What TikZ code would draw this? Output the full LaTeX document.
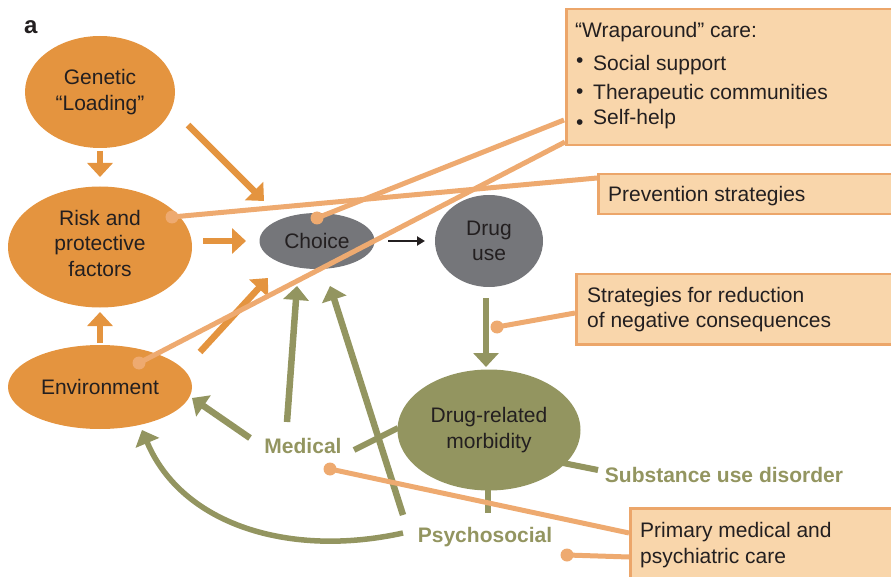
\documentclass[tikz,border=0pt]{standalone}
\usepackage{fontspec}
\setmainfont{Liberation Sans}
\usetikzlibrary{shapes.geometric,arrows.meta}

\definecolor{ink}{HTML}{231F20}
\definecolor{orangefill}{HTML}{E4943F}
\definecolor{lightline}{HTML}{EEAA70}
\definecolor{boxfill}{HTML}{F9D6AB}
\definecolor{boxline}{HTML}{ECA66A}
\definecolor{greyfill}{HTML}{75767A}
\definecolor{olive}{HTML}{939560}

\begin{document}
\begin{tikzpicture}[x=1pt,y=-1pt,
  every node/.style={text=ink},
  bubble/.style={ellipse, inner sep=0pt, align=center, font=\fontsize{21}{25.5}\selectfont},
  bubbletext/.style={inner sep=0pt, align=center, font=\fontsize{21}{25.5}\selectfont},
  orangebub/.style={bubble, fill=orangefill},
  greybub/.style={bubble, fill=greyfill},
  olivebub/.style={bubble, fill=olive},
  olivelabel/.style={anchor=base, inner sep=0pt, text=olive, font=\fontsize{21}{25}\selectfont\bfseries},
  infobox/.style={draw=boxline, line width=2.5pt, fill=boxfill, anchor=north west, inner sep=0pt},
  boxtext/.style={anchor=base west, inner sep=0pt, font=\fontsize{21}{25}\selectfont},
  orangearrow/.style={draw=orangefill, line width=6.5pt, -{Triangle[width=25pt,length=14pt]}},
  olivearrow/.style={draw=olive, line width=6.5pt, -{Triangle[width=25pt,length=14pt]}},
  oliveline/.style={draw=olive, line width=6pt},
  linkline/.style={draw=lightline, line width=5pt},
  linkdot/.style={fill=lightline},
  blackarrow/.style={draw=ink, line width=2pt, -{Triangle[width=9pt,length=8pt]}}
]
\useasboundingbox (0,0) rectangle (891,577);
\clip (0,0) rectangle (891,577);

% panel letter
\node[anchor=base west, inner sep=0pt, font=\fontsize{24}{28}\selectfont\bfseries] (panel) at (24,34) {a};

% main bubbles
\node[orangebub, minimum width=150, minimum height=112] (gen) at (100,92) {Genetic\\“Loading”};
\node[orangebub, minimum width=184, minimum height=121] (risk) at (100,247) {};
\node[bubbletext] (risktext) at (100,243) {Risk and\\protective\\factors};
\node[orangebub, minimum width=184, minimum height=84] (env) at (100,387) {Environment};
\node[greybub, minimum width=115, minimum height=56] (choice) at (317,241) {Choice};
\node[greybub, minimum width=108, minimum height=92] (druguse) at (489,241) {Drug\\use};
\node[olivebub, minimum width=183, minimum height=121] (morb) at (489,430) {Drug-related\\morbidity};

% olive labels
\node[olivelabel] (medical) at (303,453) {Medical};
\node[olivelabel] (psycho) at (485,542) {Psychosocial};
\node[olivelabel] (sud) at (724,482) {Substance use disorder};

% arrow end points
\coordinate (g2r-a) at (100,151);  \coordinate (g2r-b) at (100,177);
\coordinate (g2c-a) at (188,125);  \coordinate (g2c-b) at (264,201);
\coordinate (r2c-a) at (203,241);  \coordinate (r2c-b) at (246,241);
\coordinate (e2c-a) at (200,352);  \coordinate (e2c-b) at (268,278);
\coordinate (e2r-a) at (100,343);  \coordinate (e2r-b) at (100,312);
\coordinate (c2d-a) at (388,241);  \coordinate (c2d-b) at (425,241);
\coordinate (d2m-a) at (486,298);  \coordinate (d2m-b) at (486,367);
\coordinate (m2c-a) at (287,422);  \coordinate (m2c-b) at (297,286);
\coordinate (p2c-a) at (403,515);  \coordinate (p2c-b) at (330,286);
\coordinate (m2e-a) at (250,438);  \coordinate (m2e-b) at (192,398);
\coordinate (p2e-a) at (403,533);  \coordinate (p2e-b) at (142,430);
\coordinate (mm-a) at (354,450);   \coordinate (mm-b) at (398,428);
\coordinate (mp-a) at (488,488);   \coordinate (mp-b) at (488,513);
\coordinate (ms-a) at (563,463);   \coordinate (ms-b) at (598,470);

% orange influence arrows
\draw[orangearrow] (g2r-a) -- (g2r-b);
\draw[orangearrow] (g2c-a) -- (g2c-b);
\draw[orangearrow] (r2c-a) -- (r2c-b);
\draw[orangearrow] (e2c-a) -- (e2c-b);
\draw[orangearrow] (e2r-a) -- (e2r-b);

% choice to drug use
\draw[blackarrow] (c2d-a) -- (c2d-b);

% olive feedback arrows
\draw[olivearrow] (d2m-a) -- (d2m-b);
\draw[olivearrow] (m2c-a) -- (m2c-b);
\draw[olivearrow] (p2c-a) -- (p2c-b);
\draw[olivearrow] (m2e-a) -- (m2e-b);
\draw[olivearrow, line width=5.5pt] (p2e-a) .. controls (290,558) and (182,525) .. (p2e-b);
\draw[oliveline] (mm-a) -- (mm-b);
\draw[oliveline] (mp-a) -- (mp-b);
\draw[oliveline] (ms-a) -- (ms-b);

% intervention boxes
\node[infobox, minimum width=340, minimum height=136] (wrapbox) at (565,8) {};
\node[infobox, minimum width=310, minimum height=40] (prevbox) at (597,173) {};
\node[infobox, minimum width=330, minimum height=70] (redbox) at (575,273) {};
\node[infobox, minimum width=280, minimum height=80] (primbox) at (629,507) {};

\node[boxtext] (wraptitle) at (575,38) {“Wraparound” care:};
\node[boxtext] (bul1) at (576,68) {•};
\node[boxtext] (bul2) at (576,99) {•};
\node[boxtext] (bul3) at (576,130) {•};
\node[boxtext] (wrap1) at (593,71) {Social support};
\node[boxtext] (wrap2) at (593,100) {Therapeutic communities};
\node[boxtext] (wrap3) at (593,125) {Self-help};
\node[boxtext] (prevtext) at (608,202) {Prevention strategies};
\node[boxtext] (redtext1) at (587,302) {Strategies for reduction};
\node[boxtext] (redtext2) at (587,327) {of negative consequences};
\node[boxtext] (primtext1) at (640,537) {Primary medical and};
\node[boxtext] (primtext2) at (640,563) {psychiatric care};

% connectors from interventions to their targets
\coordinate (riskdot) at (172,217);
\coordinate (choicedot) at (317,218);
\coordinate (envdot) at (139,363);
\coordinate (reddot) at (497,327);
\coordinate (meddot) at (330,469);
\coordinate (psydot) at (567,555);
\coordinate (prev-in) at (597,178);
\coordinate (wrap-in1) at (564,120);
\coordinate (wrap-in2) at (565,142);
\coordinate (red-in) at (575,313);
\coordinate (prim-in1) at (629,533);
\coordinate (prim-in2) at (629,557);

\draw[linkline] (riskdot) -- (prev-in);
\draw[linkline] (choicedot) -- (wrap-in1);
\draw[linkline] (envdot) -- (wrap-in2);
\draw[linkline] (reddot) -- (red-in);
\draw[linkline] (meddot) -- (prim-in1);
\draw[linkline] (psydot) -- (prim-in2);
\foreach \d in {riskdot,choicedot,envdot,reddot,meddot,psydot}
  \fill[linkdot] (\d) circle (6.5);
\end{tikzpicture}
\end{document}
